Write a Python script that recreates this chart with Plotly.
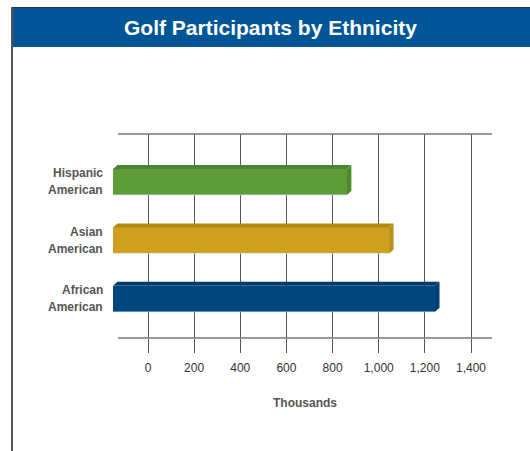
import plotly.graph_objects as go

# ---- data ----
categories = ["Hispanic American", "Asian American", "African American"]
label_lines = [["Hispanic", "American"], ["Asian", "American"], ["African", "American"]]
values = [862, 1045, 1244]          # thousands of participants
x_ticks = [0, 200, 400, 600, 800, 1000, 1200, 1400]
title_text = "Golf Participants by Ethnicity"
x_title = "Thousands"

front_colors = ["#5e9c39", "#cfa01d", "#00477f"]
top_colors = ["#4a8430", "#b18a14", "#003a6a"]
side_colors = ["#4e8b30", "#b89016", "#003d72"]

# ---- geometry (pixels) ----
W, H = 530, 451
L, R, T, B = 108, 35, 134, 113
pw, ph = W - L - R, H - T - B
px_per_unit = 323 / 1400.0
x0 = -(148 - L) / px_per_unit
x1 = x0 + pw / px_per_unit
y_top, y_bot = -0.82, 2.67           # reversed category axis
px_per_cat = ph / (y_bot - y_top)
bar_w = 26 / px_per_cat
bar_start = -(148 - 113) / px_per_unit
dx = 4.5 / px_per_unit
dy = 4 / px_per_cat

def pxx(p):
    return (p - L) / pw

def pxy(p):
    return (H - B - p) / ph

ypos = list(range(len(categories)))

fig = go.Figure()
fig.add_trace(go.Bar(
    y=ypos, x=[v - bar_start for v in values], base=bar_start,
    orientation="h", width=bar_w,
    marker=dict(color=front_colors, line=dict(width=0)),
    hovertext=categories, showlegend=False,
))

shapes = []
for i, v in enumerate(values):
    top = i - bar_w / 2
    bot = i + bar_w / 2
    shapes.append(dict(
        type="path", xref="x", yref="y", layer="above", line=dict(width=0),
        fillcolor=top_colors[i],
        path=f"M{bar_start},{top} L{bar_start+dx},{top-dy} L{v+dx},{top-dy} L{v},{top} Z"))
    shapes.append(dict(
        type="path", xref="x", yref="y", layer="above", line=dict(width=0),
        fillcolor=side_colors[i],
        path=f"M{v},{top} L{v+dx},{top-dy} L{v+dx},{bot-dy} L{v},{bot} Z"))
    # light highlight at bottom edge of front face
    shapes.append(dict(type="line", xref="x", yref="y", layer="above",
                       x0=bar_start, x1=v, y0=bot, y1=bot,
                       line=dict(color="rgba(200,225,240,0.7)", width=1)))

# top / bottom frame lines of plot
for yy in (0, 1):
    shapes.append(dict(type="line", xref="paper", yref="paper",
                       x0=pxx(118), x1=pxx(492), y0=yy, y1=yy,
                       line=dict(color="#777777", width=1.5)))
# title bar
shapes.append(dict(type="rect", xref="paper", yref="paper",
                   x0=pxx(12), x1=pxx(531), y0=pxy(47), y1=pxy(7),
                   fillcolor="#005596", line=dict(width=0), layer="above"))
shapes.append(dict(type="line", xref="paper", yref="paper",
                   x0=pxx(12), x1=pxx(531), y0=pxy(7.5), y1=pxy(7.5),
                   line=dict(color="#333333", width=1)))
# left border line
shapes.append(dict(type="line", xref="paper", yref="paper",
                   x0=pxx(12), x1=pxx(12), y0=pxy(7), y1=pxy(452),
                   line=dict(color="#555555", width=2)))

annotations = [
    dict(text=f"<b>{title_text}</b>", xref="paper", yref="paper",
         x=pxx(270), y=pxy(27), xanchor="center", yanchor="middle", showarrow=False,
         font=dict(family="Liberation Sans, Arial", size=21, color="white")),
    dict(text=f"<b>{x_title}</b>", xref="paper", yref="paper",
         x=pxx(305), y=pxy(403), xanchor="center", yanchor="middle", showarrow=False,
         font=dict(family="Liberation Sans, Arial", size=12, color="#555555")),
]
for i, lines in enumerate(label_lines):
    for j, line in enumerate(lines):
        annotations.append(dict(
            text=f"<b>{line}</b>", xref="paper", yref="y", x=pxx(105), y=i,
            yshift=(8.5 if j == 0 else -8.5), xanchor="right", yanchor="middle",
            showarrow=False,
            font=dict(family="Liberation Sans, Arial", size=12, color="#555555")))

fig.update_layout(
    width=W, height=H, margin=dict(l=L, r=R, t=T, b=B),
    paper_bgcolor="white", plot_bgcolor="white",
    bargap=0, shapes=shapes, annotations=annotations,
    font=dict(family="Liberation Sans, Arial", size=12, color="#333333"),
    xaxis=dict(range=[x0, x1], tickvals=x_ticks, tickformat=",d",
               showgrid=True, gridcolor="#555555", gridwidth=1,
               ticks="outside", ticklen=14, tickcolor="#555555", tickwidth=1,
               ticklabelstandoff=5,
               zeroline=False, showline=False,
               tickfont=dict(size=12, color="#333333")),
    yaxis=dict(range=[y_bot, y_top], showticklabels=False, showgrid=False,
               zeroline=False, showline=False, ticks=""),
)

fig.write_html("out.html")
